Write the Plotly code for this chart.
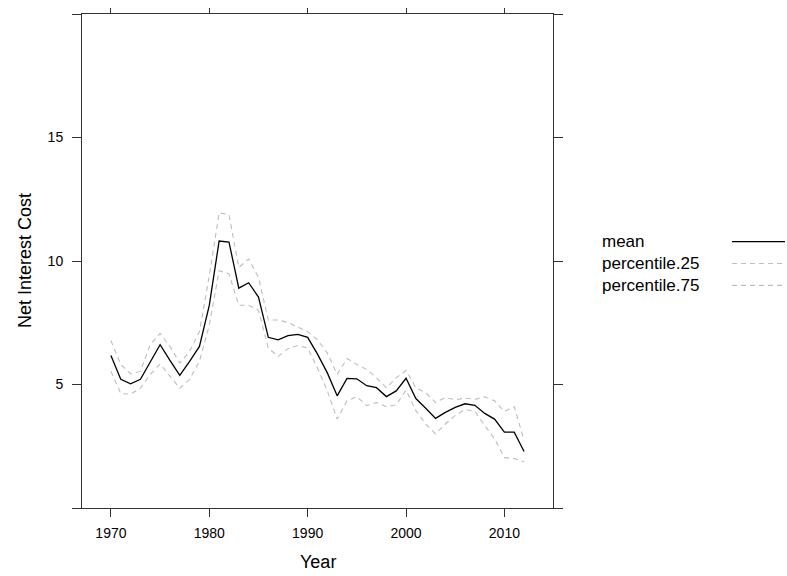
import plotly.graph_objects as go

# Net interest cost by year: mean with 25th / 75th percentile bands
years = list(range(1970, 2013))

mean_cost = [
    6.17, 5.21, 5.03, 5.21, 5.91, 6.61, 5.98, 5.37, 5.94, 6.54,
    8.20, 10.81, 10.77, 8.90, 9.12, 8.54, 6.91, 6.81, 6.98, 7.03,
    6.91, 6.23, 5.47, 4.54, 5.25, 5.23, 4.95, 4.87, 4.51, 4.74,
    5.25, 4.43, 4.04, 3.63, 3.87, 4.07, 4.22, 4.16, 3.83, 3.60,
    3.07, 3.07, 2.29,
]

pct75 = [
    6.78, 5.81, 5.43, 5.54, 6.61, 7.07, 6.54, 5.87, 6.34, 7.14,
    9.40, 11.95, 11.88, 9.74, 10.08, 9.34, 7.61, 7.61, 7.51, 7.34,
    7.14, 6.81, 6.27, 5.41, 6.05, 5.81, 5.61, 5.27, 4.87, 5.27,
    5.57, 4.87, 4.67, 4.27, 4.47, 4.38, 4.45, 4.40, 4.50, 4.34,
    3.91, 4.10, 2.74,
]

pct25 = [
    5.54, 4.63, 4.61, 4.85, 5.41, 5.83, 5.34, 4.85, 5.21, 5.94,
    7.40, 9.61, 9.48, 8.21, 8.21, 8.01, 6.47, 6.14, 6.45, 6.58,
    6.47, 5.67, 4.74, 3.60, 4.34, 4.51, 4.14, 4.27, 4.10, 4.18,
    4.77, 3.94, 3.40, 3.00, 3.40, 3.75, 3.99, 3.91, 3.34, 2.80,
    2.04, 2.00, 1.87,
]

x_ticks = [1970, 1980, 1990, 2000, 2010]
y_ticks = [0, 5, 10, 15, 20]
y_tick_text = ["", "5", "10", "15", ""]

series_names = ["mean", "percentile.25", "percentile.75"]
series_colors = ["#000000", "#BEBEBE", "#BEBEBE"]
series_dash = ["solid", "5px,4px", "5px,4px"]
series_width = [1.3, 1.1, 1.1]

FONT = "Liberation Sans, Arial, Helvetica, sans-serif"
AXIS_COL = "#333333"

# pad the x range by 7% of the data span on each side
span = years[-1] - years[0]
x_range = [years[0] - 0.07 * span, years[-1] + 0.07 * span]

fig = go.Figure()

for name, vals, col, dash, w in zip(series_names, [mean_cost, pct25, pct75],
                                    series_colors, series_dash, series_width):
    fig.add_trace(go.Scatter(
        x=years, y=vals, mode="lines", name=name,
        line=dict(color=col, dash=dash, width=w),
        showlegend=False, hoverinfo="skip",
    ))

# invisible anchor so the top tick axis is drawn
fig.add_trace(go.Scatter(
    x=[years[0]], y=[mean_cost[0]], xaxis="x2", mode="markers",
    marker=dict(opacity=0), showlegend=False, hoverinfo="skip",
))

L, R, T, B = 82, 234, 9, 68
W, H = 787, 576
pw, ph = W - L - R, H - T - B

fig.update_layout(
    width=W, height=H,
    margin=dict(l=L, r=R, t=T, b=B, pad=0),
    paper_bgcolor="white", plot_bgcolor="white",
    font=dict(family=FONT, color="#000000"),
    xaxis=dict(
        range=x_range, tickvals=x_ticks, ticks="outside", ticklen=8,
        tickwidth=1, tickcolor=AXIS_COL, showgrid=False, zeroline=False,
        showline=True, linecolor=AXIS_COL, linewidth=1, mirror=True,
        tickfont=dict(size=14, family=FONT), ticklabelstandoff=4,
    ),
    xaxis2=dict(
        range=x_range, tickvals=x_ticks, overlaying="x", side="top",
        ticks="outside", ticklen=5, tickwidth=1, tickcolor=AXIS_COL,
        showticklabels=False, showgrid=False, zeroline=False, showline=False,
    ),
    yaxis=dict(
        range=[0, 20], tickvals=y_ticks, ticktext=y_tick_text,
        ticks="outside", ticklen=9, tickwidth=1, tickcolor=AXIS_COL,
        showgrid=False, zeroline=False, showline=True, linecolor=AXIS_COL,
        linewidth=1, mirror="allticks", tickfont=dict(size=14, family=FONT),
        ticklabelstandoff=6,
    ),
    showlegend=False,
)

# axis titles
fig.add_annotation(text="Year", xref="paper", yref="paper",
                   x=0.5, y=-(563 - (T + ph)) / ph, xanchor="center", yanchor="middle",
                   showarrow=False, font=dict(size=18, family=FONT))
fig.add_annotation(text="Net Interest Cost", xref="paper", yref="paper",
                   x=(25 - L) / pw, y=0.5, xanchor="center", yanchor="middle",
                   textangle=-90, showarrow=False, font=dict(size=18, family=FONT))

# key: labels stacked on the left, line samples on the right
KEY_SIZE = 17
row_gap = KEY_SIZE * 1.3
key_mid = 261
fig.add_annotation(text="<br>".join(series_names), xref="paper", yref="paper",
                   x=(600 - L) / pw, y=(T + ph - key_mid) / ph,
                   xanchor="left", yanchor="middle", align="left",
                   showarrow=False, font=dict(size=KEY_SIZE, family=FONT))
for i, (col, dash, w) in enumerate(zip(series_colors, series_dash, series_width)):
    py = key_mid + (i - 1) * row_gap
    yp = (T + ph - py) / ph
    fig.add_shape(type="line", xref="paper", yref="paper",
                  x0=(732 - L) / pw, x1=(785 - L) / pw, y0=yp, y1=yp,
                  line=dict(color=col, dash=dash, width=w))

fig.write_html("out.html")
